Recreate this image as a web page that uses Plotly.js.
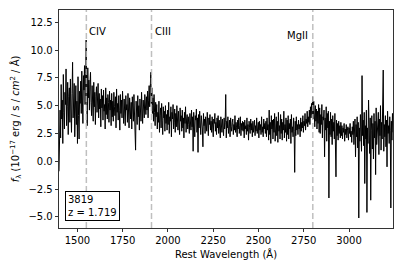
<!DOCTYPE html>
<html>
<head>
<meta charset="utf-8">
<script src="https://cdn.plot.ly/plotly-3.0.1.min.js"></script>
<style>html,body{margin:0;padding:0;background:#fff;}#chart{width:404px;height:268px;}</style>
</head>
<body>
<div id="chart"></div>
<script>
// Spectrum: flux values (10^-17 erg/s/cm^2/Å), sampled every 3 Å starting at 1398 Å (rest frame)
const waveStart = 1398;
const waveStep = 3;
const flux = [
  -0.9, 1.2, 4.6, 2.1, 6.9, 3.8, 5.5, 1.6, 7.8, 4.4, 2.9, 6.2, 5.1, 8.3, 3.2, 4.9, 7.1, 2.4, 5.8, 6.6,
  3.5, 7.4, 4.7, 2.6, 6.1, 8.9, 3.9, 5.6, 7.0, 2.2, 4.8, 6.8, 3.3, 5.4, 1.6, 7.6, 4.1, 2.0, 6.3, 5.2,
  7.2, 4.3, 8.1, 5.9, 3.4, 7.7, 6.4, 8.6, 5.1, 7.9, 10.9, 6.2, 3.2, 8.4, 5.7, 7.3, 4.6, 6.9, 8.0, 5.3,
  4.1, 6.8, 5.5, 3.6, 7.1, 4.9, 6.2, 3.3, 5.8, 6.7, 4.4, 5.2, 7.0, 3.9, 6.1, 4.7, 5.6, 3.1, 6.5, 4.8,
  5.9, 3.7, 6.4, 4.5, 5.1, 2.9, 6.6, 4.2, 5.7, 3.8, 6.0, 5.3, 3.5, 6.3, 4.6, 5.5, 3.2, 6.1, 4.0, 5.4,
  3.6, 6.2, 4.9, 4.1, 5.8, 3.0, 6.5, 4.4, 5.2, 3.7, 5.9, 4.6, 2.8, 6.0, 4.3, 5.5, 3.9, 6.3, 4.7, 3.4,
  5.6, 4.0, 3.2, 5.9, 4.6, 5.1, 3.5, 6.1, 4.2, 3.0, 5.7, 4.8, 3.8, 5.3, 2.9, 5.8, 4.4, 3.6, 6.0, 4.1,
  3.7, 1.0, 5.4, 4.3, 3.3, 5.9, 4.0, 5.0, 2.8, 5.6, 4.5, 3.6, 6.2, 4.1, 3.4, 5.5, 4.7, 3.9, 6.0, 4.8,
  4.2, 5.8, 4.6, 6.3, 3.9, 5.5, 6.8, 4.9, 6.1, 8.0, 5.2, 6.6, 4.3, 5.7, 3.6, 6.0, 4.4, 3.2, 5.3, 4.0,
  5.1, 2.9, 4.4, 3.5, 5.4, 2.6, 4.1, 4.8, 3.0, 5.2, 3.7, 2.4, 4.9, 3.9, 4.5, 2.7, 5.0, 3.4, 4.2, 2.8,
  4.6, 3.3, 5.3, 2.5, 4.0, 3.6, 4.9, 2.2, 4.4, 3.8, 5.1, 2.9, 3.5, 4.7, 2.6, 4.3, 3.1, 5.0, 3.9, 2.8,
  4.5, 3.2, 2.4, 4.8, 3.6, 4.1, 2.7, 4.6, 3.0, 3.9, 2.1, 4.4, 3.4, 4.9, 2.6, 3.8, 4.2, 2.9, 4.0, 3.3,
  2.5, 4.3, 3.6, 2.8, 4.6, 3.1, 4.0, 0.9, 4.4, 3.3, 2.2, 4.1, 3.7, 4.7, 2.6, 3.9, 0.8, 4.2, 3.0, 4.5,
  3.4, 2.4, 4.1, 3.6, 2.9, 1.3, 4.3, 3.2, 3.8, 2.5, 4.0, 3.5, 2.7, 4.4, 3.1, 2.3, 3.9, 3.3, 4.2, 2.8,
  3.6, 2.6, 4.0, 3.1, 2.2, 3.8, 3.4, 4.3, 2.7, 3.5, 2.4, 3.9, 3.0, 4.1, 2.5, 3.7, 3.2, 2.1, 4.0, 3.3,
  2.6, 3.8, 3.2, 2.3, 3.9, 2.9, 3.5, 6.0, 2.1, 3.6, 3.0, 4.0, 2.5, 3.4, 3.7, 2.2, 3.9, 3.1, 2.7, 3.5,
  3.8, 2.4, 3.3, 2.8, 4.1, 2.6, 3.5, 3.0, 2.2, 3.7, 2.9, 3.9, 2.5, 3.2, 4.0, 2.3, 3.4, 2.8, 3.6, 2.7,
  3.5, 2.1, 3.7, 2.9, 3.2, 2.4, 3.9, 2.7, 3.3, 1.9, 3.6, 3.0, 2.5, 3.8, 2.8, 3.4, 2.2, 3.6, 2.6, 3.1,
  3.7, 2.3, 3.2, 2.7, 3.9, 2.5, 3.0, 3.5, 2.1, 3.6, 2.8, 3.3, 2.4, 4.0, 2.6, 3.1, 2.2, 3.8, 2.9, 3.4,
  2.5, 3.6, 2.2, 3.9, 2.8, 3.3, 1.9, 4.6, 2.4, 3.5, 1.6, 4.1, 2.9, 3.7, 2.0, 3.8, 2.6, 4.3, 1.8, 3.4,
  4.0, 2.3, 3.6, 1.7, 4.4, 2.7, 3.2, 2.0, 4.2, 2.5, 3.8, 1.9, 3.5, 2.8, 4.5, 2.1, 3.3, 2.6, 3.9, 1.8,
  3.7, 2.4, 4.1, 2.0, 3.4, 2.9, 3.8, 1.6, 4.2, 2.6, 3.1, 2.2, 3.9, 2.7, -1.0, 3.6, 2.3, 4.0, 2.8, 3.3,
  2.4, 3.7, 2.9, 3.3, 2.2, 3.9, 2.7, 3.5, 3.0, 4.1, 2.6, 3.6, 3.2, 4.3, 2.8, 3.8, 3.4, 4.5, 3.1, 4.0,
  3.5, 4.6, 3.3, 4.9, 3.9, 5.2, 4.2, 5.8, 3.8, 5.4, 4.4, 3.1, 5.0, 3.6, 4.7, 2.9, 4.5, 3.4, 5.1, 2.6,
  4.8, 2.5, 4.2, 3.3, 5.1, 2.1, 4.0, 3.7, 4.6, 0.4, 3.9, 2.8, 4.9, 1.8, 4.3, 3.0, 4.5, -3.3, 3.6, 2.4,
  4.4, 2.2, 3.8, 1.5, 4.1, 2.7, 3.5, 2.0, 4.3, 2.6, -1.4, 3.7, 2.3, 3.4, 1.9, 3.6, 2.5, 3.2, 2.1, 3.5,
  2.3, 3.2, 2.0, 3.0, 2.6, 3.4, 1.8, 2.9, 2.4, 3.3, 2.1, 2.8, 3.1, 1.9, 3.0, 2.5, 3.4, 2.2, 2.7, 1.7,
  3.1, 2.4, 3.6, 1.5, 2.9, 3.8, 0.4, 3.3, 2.2, 4.0, 1.2, 3.5, -5.1, 3.0, 1.8, 4.2, 2.6, 0.9, 7.7, 2.3,
  3.7, 1.4, 4.4, -2.0, 3.2, 2.0, 4.6, -4.6, 3.0, 1.6, 5.5, 2.4, 0.7, 3.9, -3.5, 2.8, 4.1, 1.1, 3.4, 0.2,
  4.3, 2.1, 3.6, -1.2, 4.8, 1.5, 3.1, 2.7, 4.4, 0.6, 3.8, 2.3, 5.0, 1.0, 3.5, 2.0, 4.2, 8.2, 0.9, 3.3,
  2.2, 4.1, 1.3, 3.7, -0.5, 4.5, 2.5, 3.2, 1.6, 4.0, 2.8, -4.2, 3.6, 1.9, 4.3, 2.6
];
// Emission lines marked
const lineWaves = [1549, 1909, 2800];
const lineNames = ['CIV', 'CIII', 'MgII'];
// Object info
const objectId = '3819';
const redshift = '1.719';
const xTicks = [1500, 1750, 2000, 2250, 2500, 2750, 3000];
const yTicks = [-5.0, -2.5, 0.0, 2.5, 5.0, 7.5, 10.0, 12.5];

const FONT = 'DejaVu Sans, sans-serif';

const trace = {
  type: 'scatter', mode: 'lines',
  x0: waveStart, dx: waveStep, y: flux,
  line: {color: 'black', width: 1.0},
  hoverinfo: 'skip'
};

const shapes = lineWaves.map(w => ({
  type: 'line', xref: 'x', yref: 'paper', x0: w, x1: w, y0: 0, y1: 1,
  line: {color: 'rgba(180,180,180,0.85)', width: 1.5, dash: '6px,3px'}, layer: 'above'
}));

const annotations = lineNames.map((n, i) => ({
  text: n, xref: 'x', yref: 'y', x: lineWaves[i], y: i === 2 ? 11.35 : 11.7,
  xanchor: i === 2 ? 'right' : 'left', xshift: i === 2 ? -3 : 1,
  yanchor: 'middle', showarrow: false, font: {family: FONT, size: 10, color: 'black'}
}));
annotations.push({
  text: objectId + '<br>z = ' + redshift, xref: 'paper', yref: 'paper',
  x: 0.018, y: 0.032, xanchor: 'left', yanchor: 'bottom', align: 'left',
  showarrow: false, bordercolor: 'black', borderwidth: 1, borderpad: 2, bgcolor: 'white',
  font: {family: FONT, size: 10, color: 'black'}
});

const layout = {
  width: 404, height: 268,
  margin: {l: 59, r: 11, t: 10, b: 40, pad: 0},
  paper_bgcolor: 'white', plot_bgcolor: 'white',
  showlegend: false,
  font: {family: FONT, size: 10, color: 'black'},
  xaxis: {
    range: [1398, 3243], tickvals: xTicks, ticktext: xTicks.map(String),
    ticks: 'outside', ticklen: 3.5, tickwidth: 0.8, tickcolor: 'black',
    showline: true, linecolor: 'black', linewidth: 0.8, mirror: true,
    showgrid: false, zeroline: false, automargin: false,
    title: {text: 'Rest Wavelength (Å)', font: {family: FONT, size: 10}, standoff: 5}
  },
  yaxis: {
    range: [-6.0, 13.6], tickvals: yTicks, ticktext: yTicks.map(v => (v < 0 ? '−' : '') + Math.abs(v).toFixed(1)),
    ticks: 'outside', ticklen: 3.5, tickwidth: 0.8, tickcolor: 'black',
    showline: true, linecolor: 'black', linewidth: 0.8, mirror: true,
    showgrid: false, zeroline: false, automargin: false,
    title: {text: '<i>f</i><sub>λ</sub> (10<sup>−17</sup> erg / s / <i>cm</i><sup>2</sup> / Å)', font: {family: FONT, size: 10}, standoff: 6}
  },
  shapes: shapes,
  annotations: annotations
};

Plotly.newPlot('chart', [trace], layout, {displayModeBar: false, staticPlot: true});
</script>
</body>
</html>
